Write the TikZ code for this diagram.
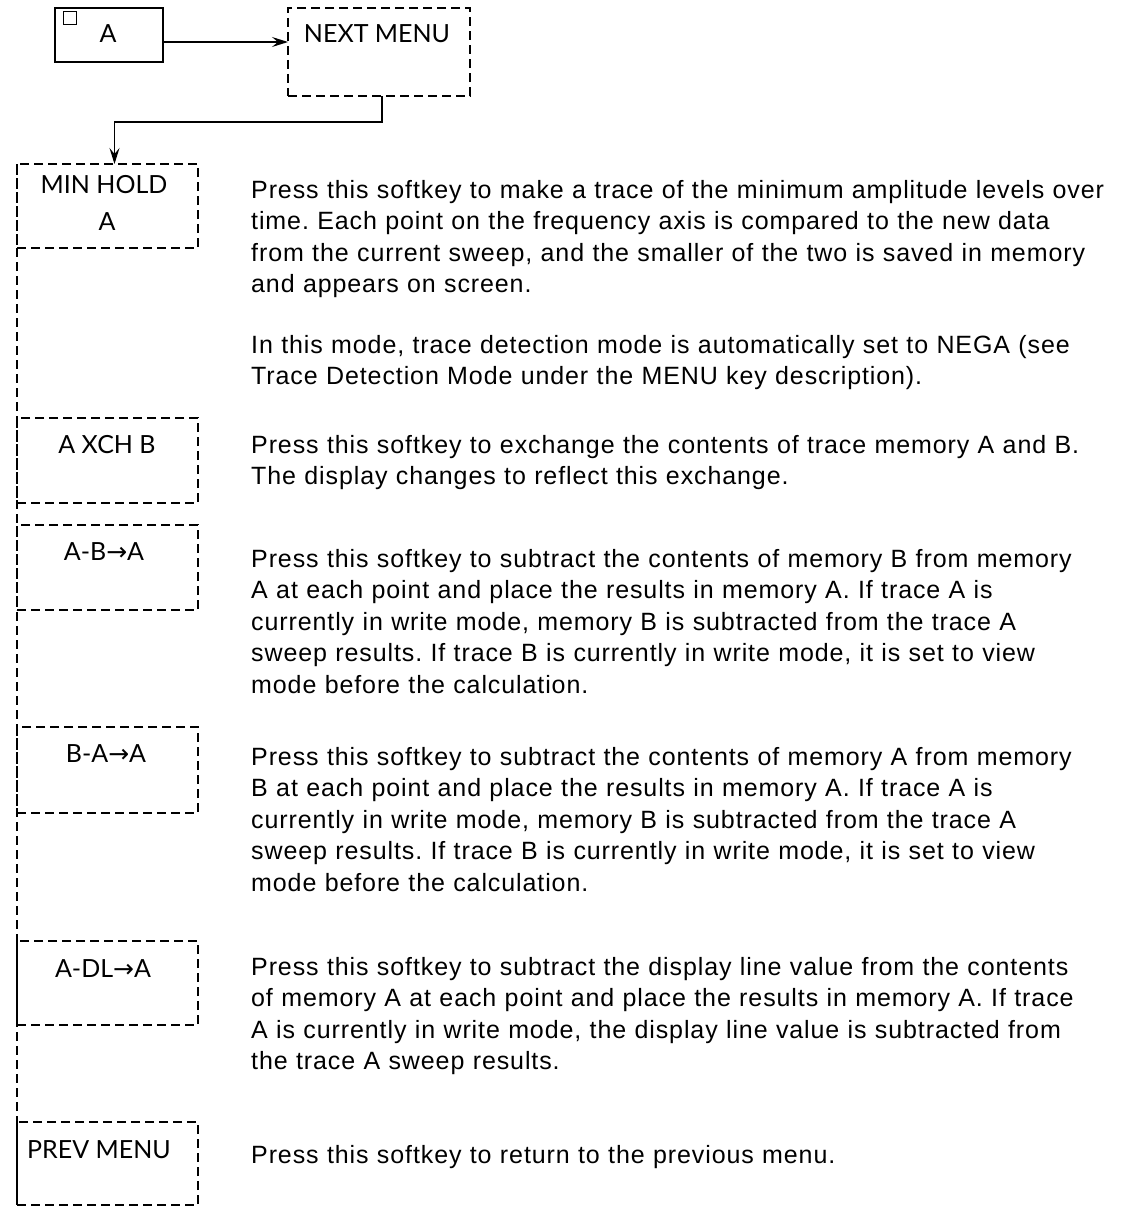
\documentclass[tikz,border=0pt]{standalone}
\usepackage{fontspec}
\setmainfont{Liberation Sans}
\newfontfamily\descfont[LetterSpace=3.6]{Liberation Sans}
\newfontfamily\keyfont{Lato}
\newfontfamily\arrfont{DejaVu Sans}
\usetikzlibrary{arrows.meta}
\frenchspacing
\begin{document}
\begin{tikzpicture}[x=1pt,y=-1pt,
  keybox/.style={draw, dash pattern=on 9pt off 5pt, line width=1.4pt, minimum width=181pt, inner sep=0pt, outer sep=0pt},
  solidbox/.style={draw, line width=1.8pt, inner sep=0pt, outer sep=0pt},
  keylabel/.style={font=\keyfont\fontsize{25}{30}\selectfont, inner sep=0pt, anchor=base},
  desc/.style={font=\descfont\fontsize{25}{31.6}\selectfont, text width=950pt, align=left, inner sep=0pt, anchor=base west},
  conn/.style={line width=1.3pt, -{Stealth[length=16pt,width=10pt,inset=6pt]}}]
\useasboundingbox (0,0) rectangle (1127,1207);
\fill[white] (0,0) rectangle (1127,1207);

% top row
\node[solidbox, minimum width=108pt, minimum height=54pt] (abox) at (109,35) {};
\node[draw, line width=1pt, minimum size=13pt, inner sep=0pt] (sq) at (70,18.5) {};
\node[keylabel] (alabel) at (108,43) {A};
\node[keybox, minimum width=182pt, minimum height=88pt] (next) at (379,52) {};
\node[keylabel] (nextlabel) at (377,43) {NEXT MENU};

% softkey column
\node[keybox, minimum height=84pt] (minhold) at (107.5,206) {};
\node[keylabel] (minholdlabel) at (104,193) {MIN HOLD};
\node[keylabel] (minholdA) at (107,230) {A};

\node[keybox, minimum height=85pt] (xch) at (107.5,460.5) {};
\node[keylabel] (xchlabel) at (107,453) {A XCH B};

\node[keybox, minimum height=85pt] (amb) at (107.5,567.5) {};
\node[keylabel] (amblabel) at (104,560) {A-B{\arrfont →}A};

\node[keybox, minimum height=86pt] (bma) at (107.5,770) {};
\node[keylabel] (bmalabel) at (106,762) {B-A{\arrfont →}A};

\node[keybox, minimum height=84pt] (adl) at (107.5,983) {};
\node[keylabel] (adllabel) at (103,977) {A-DL{\arrfont →}A};

\node[keybox, minimum height=83pt] (prev) at (107.5,1163.5) {};
\node[keylabel] (prevlabel) at (99,1158) {PREV MENU};

% continuous left line
\draw[dash pattern=on 9pt off 5pt, line width=1.4pt] (minhold.north west) -- (prev.south west);

% connectors
\draw[conn] ([yshift=-7pt]abox.east) -- ([yshift=-7pt]abox.east -| next.west);
\draw[conn] ([xshift=3pt]next.south) -- ++(0,26) -| ([xshift=7pt]minhold.north);

% descriptions
\node[desc] (d1) at (251,198) {Press this softkey to make a trace of the minimum amplitude levels over\\
time. Each point on the frequency axis is compared to the new data\\
from the current sweep, and the smaller of the two is saved in memory\\
and appears on screen.};
\node[desc] (d1b) at (251,353) {In this mode, trace detection mode is automatically set to NEGA (see\\
Trace Detection Mode under the MENU key description).};
\node[desc] (d2) at (251,453) {Press this softkey to exchange the contents of trace memory A and B.\\
The display changes to reflect this exchange.};
\node[desc] (d3) at (251,567) {Press this softkey to subtract the contents of memory B from memory\\
A at each point and place the results in memory A. If trace A is\\
currently in write mode, memory B is subtracted from the trace A\\
sweep results. If trace B is currently in write mode, it is set to view\\
mode before the calculation.};
\node[desc] (d4) at (251,765) {Press this softkey to subtract the contents of memory A from memory\\
B at each point and place the results in memory A. If trace A is\\
currently in write mode, memory B is subtracted from the trace A\\
sweep results. If trace B is currently in write mode, it is set to view\\
mode before the calculation.};
\node[desc] (d5) at (251,975) {Press this softkey to subtract the display line value from the contents\\
of memory A at each point and place the results in memory A. If trace\\
A is currently in write mode, the display line value is subtracted from\\
the trace A sweep results.};
\node[desc] (d6) at (251,1163) {Press this softkey to return to the previous menu.};
\end{tikzpicture}
\end{document}
